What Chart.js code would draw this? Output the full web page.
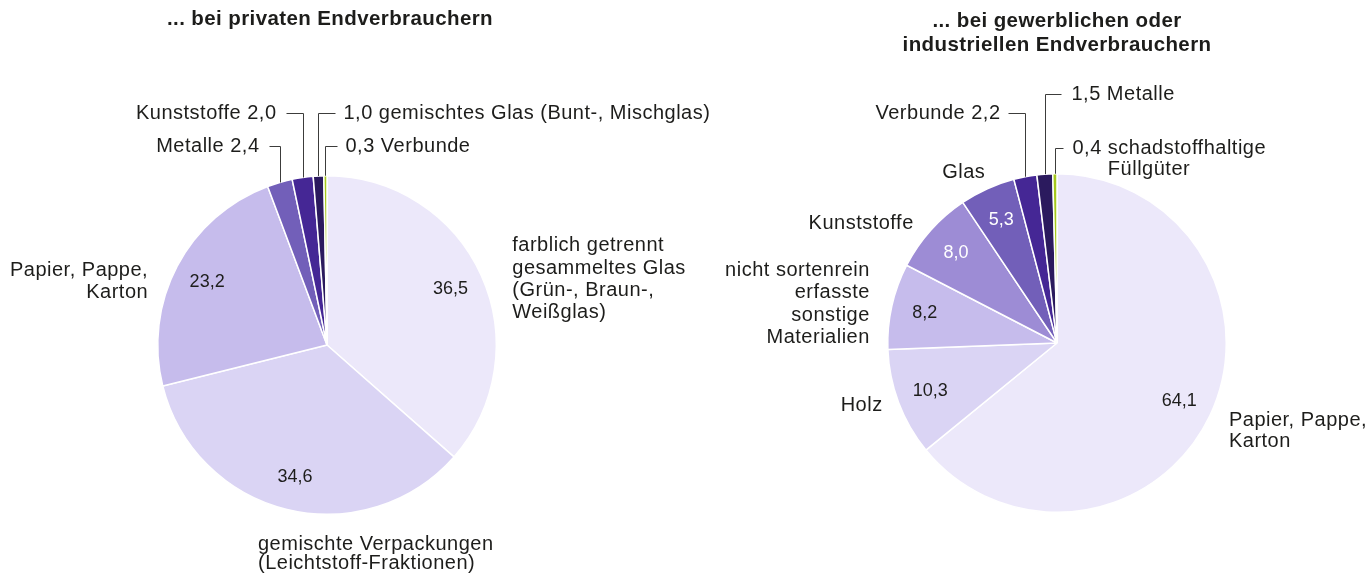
<!DOCTYPE html>
<html>
<head>
  <meta charset="UTF-8">
  <title>Verpackungsabfälle</title>
  <script src="https://cdn.jsdelivr.net/npm/chart.js"></script>
  <style>
    body { margin: 0; background: #fff; }
    .wrap { position: absolute; top: 0; height: 574px; }
  </style>
</head>
<body>
  <div class="wrap" style="left:0;width:720px"><canvas id="privat" width="720" height="574"></canvas></div>
  <div class="wrap" style="left:720px;width:650px"><canvas id="gewerbe" width="650" height="574"></canvas></div>

  <script>
    // data, clockwise from 12 o'clock
    const privatTitle = ['... bei privaten Endverbrauchern'];
    const privatCategories = [
      ['farblich getrennt', 'gesammeltes Glas', '(Grün-, Braun-,', 'Weißglas)'],
      ['gemischte Verpackungen', '(Leichtstoff-Fraktionen)'],
      ['Papier, Pappe,', 'Karton'],
      'Metalle',
      'Kunststoffe',
      'gemischtes Glas (Bunt-, Mischglas)',
      'Verbunde'
    ];
    const privatValues = [36.5, 34.6, 23.2, 2.4, 2.0, 1.0, 0.3];

    const gewerbeTitle = ['... bei gewerblichen oder', 'industriellen Endverbrauchern'];
    const gewerbeCategories = [
      ['Papier, Pappe,', 'Karton'],
      'Holz',
      ['nicht sortenrein', 'erfasste', 'sonstige', 'Materialien'],
      'Kunststoffe',
      'Glas',
      'Verbunde',
      'Metalle',
      ['schadstoffhaltige', 'Füllgüter']
    ];
    const gewerbeValues = [64.1, 10.3, 8.2, 8.0, 5.3, 2.2, 1.5, 0.4];

    // styling
    const FONT = '"Liberation Sans", Arial, Helvetica, sans-serif';
    const TEXT = '#1d1d1b';
    const C = {
      p1: '#ece8fa', p2: '#dad4f4', p3: '#c6bcec', p4: '#9d8cd5',
      p5: '#725fb9', p6: '#452795', p7: '#2b1a5e', green: '#a5c81c'
    };
    const privatColors = [C.p1, C.p2, C.p3, C.p5, C.p6, C.p7, C.green];
    const gewerbeColors = [C.p1, C.p2, C.p3, C.p4, C.p5, C.p6, C.p7, C.green];

    // label placement: name offset from the rim point of the slice,
    // or a leader line (lead = y above the pie top)
    const privatLayout = [
      { dx: 31, dy: 4, align: 'left', lh: 22.4 },
      { dx: -29, dy: 45, align: 'left', lh: 19 },
      { dx: -29, dy: 15, align: 'right', lh: 22 },
      { lead: -30, side: 'left', len: 11, gap: 10 },
      { lead: -63, side: 'left', len: 17, gap: 10 },
      { lead: -63, side: 'right', len: 17, gap: 8 },
      { lead: -30, side: 'right', len: 12, gap: 8 }
    ];
    const gewerbeLayout = [
      { dx: 19, dy: 15, align: 'left', lh: 21 },
      { dx: -16, dy: 3, align: 'right' },
      { dx: -22, dy: -2, align: 'right', lh: 22.3 },
      { dx: -17, dy: -7, align: 'right', valColor: '#fff' },
      { dx: -2, dy: -16, align: 'right', valColor: '#fff' },
      { lead: -61, side: 'left', len: 17, gap: 8 },
      { lead: -80, side: 'right', len: 16, gap: 10 },
      { lead: -26, side: 'right', len: 8, gap: 9, lh: 21 }
    ];

    const LABEL_FONT = '20px ' + FONT;
    const LABEL_SPACING = '0.5px';
    const VALUE_R = 0.8;
    const fmt = v => v.toFixed(1).replace('.', ',');

    const pieLabels = {
      id: 'pieLabels',
      afterDatasetsDraw(chart, args, opts) {
        const ctx = chart.ctx;
        const meta = chart.getDatasetMeta(0);
        const values = chart.data.datasets[0].data;
        const names = chart.data.labels;
        ctx.save();
        ctx.fillStyle = TEXT;
        ctx.textBaseline = 'middle';

        // title
        ctx.font = 'bold 20.5px ' + FONT;
        ctx.letterSpacing = '0.4px';
        ctx.textAlign = 'center';
        opts.title.forEach((t, k) => ctx.fillText(t, opts.titleX, opts.titleY + k * 24));

        meta.data.forEach((arc, i) => {
          const lay = opts.layout[i];
          const { x, y, startAngle, endAngle, outerRadius } =
            arc.getProps(['x', 'y', 'startAngle', 'endAngle', 'outerRadius'], true);
          const mid = (startAngle + endAngle) / 2;
          const px = x + Math.cos(mid) * outerRadius;
          const py = y + Math.sin(mid) * outerRadius;
          const lines = [].concat(names[i]);
          const val = fmt(values[i]);

          if (lay.lead !== undefined) {
            const ly = Math.round(y - outerRadius + lay.lead) + 0.5;
            const lx = Math.round(px) + 0.5;
            const dir = lay.side === 'left' ? -1 : 1;
            const hx = lx + dir * lay.len;
            ctx.strokeStyle = '#3c3c3b';
            ctx.lineWidth = 1;
            ctx.beginPath();
            ctx.moveTo(lx, py);
            ctx.lineTo(lx, ly);
            ctx.lineTo(hx, ly);
            ctx.stroke();

            ctx.font = LABEL_FONT;
            ctx.letterSpacing = LABEL_SPACING;
            ctx.fillStyle = TEXT;
            const tx = hx + dir * lay.gap;
            if (dir < 0) {
              ctx.textAlign = 'right';
              ctx.fillText(lines[0] + ' ' + val, tx, ly);
            } else {
              ctx.textAlign = 'left';
              ctx.fillText(val + ' ' + lines[0], tx, ly);
              const indent = ctx.measureText(val + ' ').width;
              lines.slice(1).forEach((l, k) => ctx.fillText(l, tx + indent, ly + (k + 1) * (lay.lh || 22)));
            }
          } else {
            // value inside the slice
            const vr = outerRadius * VALUE_R;
            ctx.font = '18px ' + FONT;
            ctx.letterSpacing = '0px';
            ctx.textAlign = 'center';
            ctx.fillStyle = lay.valColor || TEXT;
            ctx.fillText(val, x + Math.cos(mid) * vr, y + Math.sin(mid) * vr);

            // category name outside
            ctx.font = LABEL_FONT;
            ctx.letterSpacing = LABEL_SPACING;
            ctx.fillStyle = TEXT;
            ctx.textAlign = lay.align;
            const lh = lay.lh || 22;
            const top = py + lay.dy - (lines.length - 1) * lh / 2;
            lines.forEach((l, k) => ctx.fillText(l, px + lay.dx, top + k * lh));
          }
        });
        ctx.restore();
      }
    };

    function makePie(id, labels, values, colors, layout, title, titleX, titleY, padding) {
      return new Chart(document.getElementById(id), {
        type: 'pie',
        data: {
          labels: labels,
          datasets: [{
            data: values,
            backgroundColor: colors,
            borderColor: '#ffffff',
            borderWidth: 1.5,
            hoverOffset: 0
          }]
        },
        options: {
          responsive: false,
          animation: false,
          events: [],
          layout: { padding: padding },
          plugins: {
            legend: { display: false },
            tooltip: { enabled: false },
            pieLabels: { layout: layout, title: title, titleX: titleX, titleY: titleY }
          }
        },
        plugins: [pieLabels]
      });
    }

    makePie('privat', privatCategories, privatValues, privatColors, privatLayout,
      privatTitle, 330, 19, { left: 157, right: 223, top: 175, bottom: 59 });
    makePie('gewerbe', gewerbeCategories, gewerbeValues, gewerbeColors, gewerbeLayout,
      gewerbeTitle, 337, 21, { left: 167, right: 143, top: 173, bottom: 61 });
  </script>
</body>
</html>
